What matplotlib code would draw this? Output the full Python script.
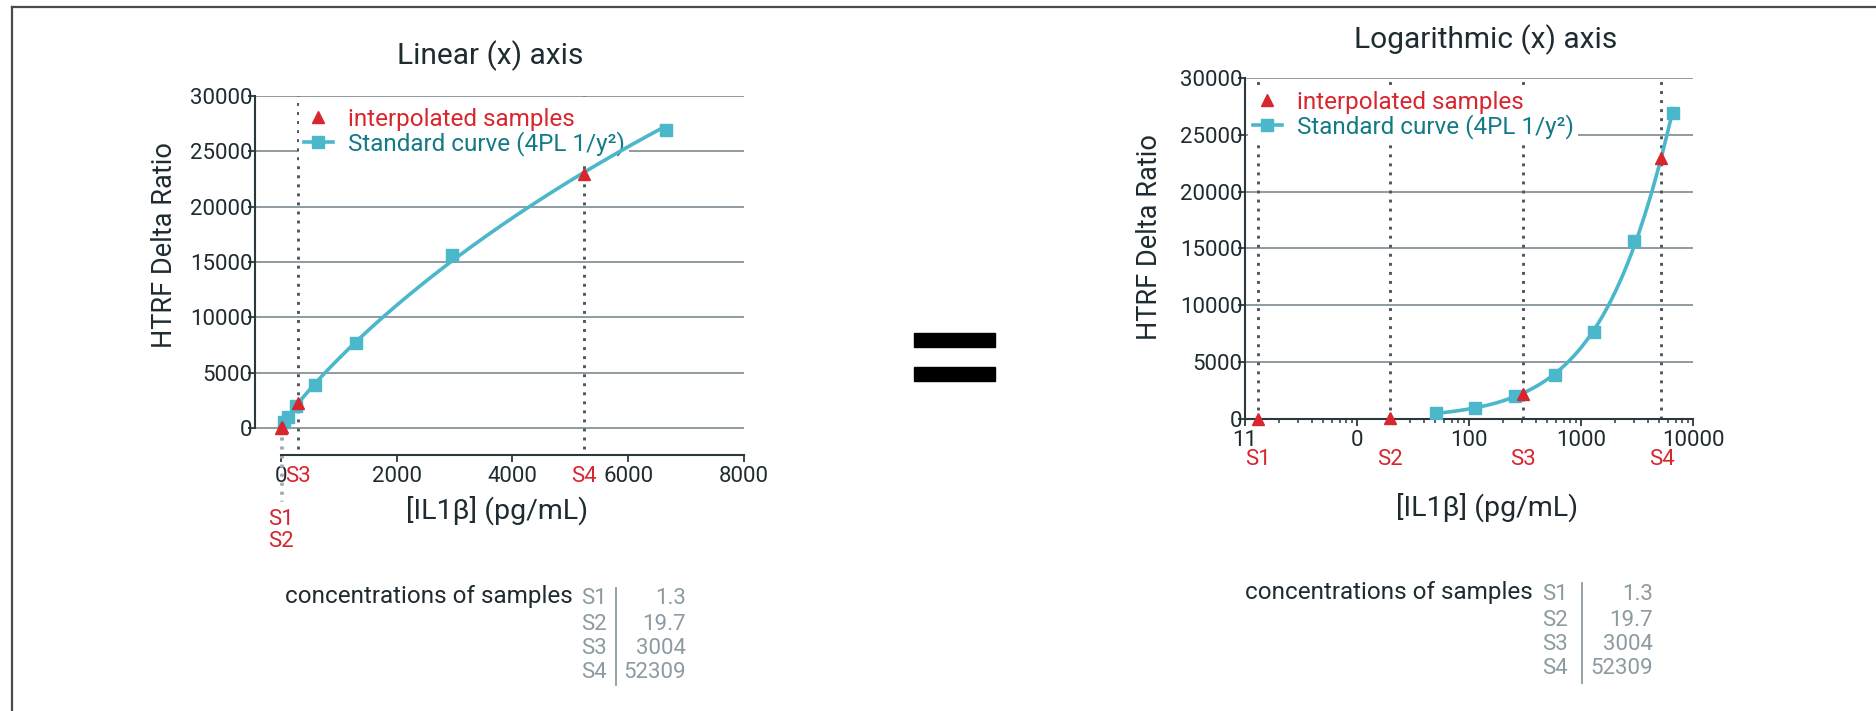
import numpy as np
import matplotlib
matplotlib.use('Agg')
import matplotlib.pyplot as plt
import matplotlib.transforms as mtrans
from matplotlib.lines import Line2D
from matplotlib.patches import Rectangle

plt.rcParams['font.family'] = ['Roboto', 'DejaVu Sans']

# standards of the IL1b kit
std_conc = [51, 114, 258, 580, 1300, 2950, 6650]
std_ratio = [500, 980, 2030, 3870, 7670, 15620, 26950]

# unknowns read back on the curve
sample_names = ['S1', 'S2', 'S3', 'S4']
sample_conc = [1.3, 19.7, 300.4, 5230.9]
sample_ratio = [0, 120, 2230, 22950]
table_values = ['1.3', '19.7', '3004', '52309']

y_ticks = [0, 5000, 10000, 15000, 20000, 25000, 30000]
lin_ticks = [0, 2000, 4000, 6000, 8000]
log_ticks = [1, 10, 100, 1000, 10000]
log_tick_labels = ['11', '0', '100', '1000', '10000']

RED = '#d8262f'
CYAN = '#4bb7cb'
TEAL = '#147a88'
TEXT = '#1e2b31'
GRID = '#87939a'
AXIS = '#2b383e'
DOTS = '#4c575c'
TABLE = '#8c9ba2'
DOTTED = (0, (1, 2.1))

W, H = 1876, 711


def fx(px):
    return px / W


def fy(py):
    return 1 - py / H


def fit_4pl(x, y):
    """Weighted (1/y^2) 4PL fit, grid over slope and EC50, A/D by least squares."""
    x = np.asarray(x, float)
    y = np.asarray(y, float)
    best = None
    for b in np.linspace(0.5, 2.0, 151):
        for c in np.logspace(2.5, 6.5, 201):
            g = 1.0 / (1.0 + (x / c) ** b)
            M = np.column_stack([g, 1 - g]) / y[:, None]
            coef = np.linalg.lstsq(M, np.ones_like(y), rcond=None)[0]
            r = np.sum((M @ coef - 1) ** 2)
            if best is None or r < best[0]:
                best = (r, coef[0], b, c, coef[1])
    return best[1:]


A, B, C, D = fit_4pl(std_conc, std_ratio)


def four_pl(x):
    return D + (A - D) / (1 + (x / C) ** B)


xs = np.logspace(np.log10(min(std_conc)), np.log10(max(std_conc)), 400)

fig = plt.figure(figsize=(W / 100, H / 100), dpi=100)
ax1 = fig.add_axes([fx(255), fy(455), fx(744) - fx(255), fy(96) - fy(455)])
ax2 = fig.add_axes([fx(1245), fy(419), fx(1693) - fx(1245), fy(78) - fy(419)])

for ax in (ax1, ax2):
    ax.spines['top'].set_visible(False)
    ax.spines['right'].set_visible(False)
    for s in ('left', 'bottom'):
        ax.spines[s].set_color(AXIS)
        ax.spines[s].set_linewidth(1.5)
    ax.set_yticks(y_ticks)
    ax.yaxis.grid(True, color=GRID, lw=1.3)
    ax.set_axisbelow(True)
    ax.tick_params(axis='y', length=5, width=1.3, pad=-3, labelsize=16,
                   colors=AXIS, labelcolor=TEXT)
    ax.tick_params(axis='x', which='major', length=5, width=1.3, pad=3,
                   labelsize=16, colors=AXIS, labelcolor=TEXT)

    ax.plot(xs, four_pl(xs), color=CYAN, lw=2.6, zorder=3)
    ax.plot(std_conc, std_ratio, 's', color=CYAN, ms=8, zorder=4)
    ax.plot(sample_conc, sample_ratio, '^', color=RED, ms=8, zorder=5, clip_on=False)

# linear x axis
ax1.set_xlim(-448, 8000)
ax1.set_ylim(-2440, 30000)
ax1.spines['left'].set_bounds(0, 30000)
ax1.spines['bottom'].set_bounds(0, 8000)
ax1.set_xticks(lin_ticks)
lab1 = mtrans.blended_transform_factory(ax1.transData, ax1.transAxes)
for name, c in zip(sample_names, sample_conc):
    if c < 100:
        ax1.plot([c, c], [0, -6600], ls=DOTTED, lw=2.1, color='#a3adb1',
                 clip_on=False, zorder=2)
    else:
        ax1.plot([c, c], [-1900, 30000], ls=DOTTED, lw=2.1, color=DOTS,
                 clip_on=False, zorder=2)
        ax1.text(c, -0.0585, name, transform=lab1, color=RED, fontsize=16,
                 ha='center', va='center')
ax1.text(0, -0.181, 'S1', transform=lab1, color=RED, fontsize=16, ha='center', va='center')
ax1.text(0, -0.242, 'S2', transform=lab1, color=RED, fontsize=16, ha='center', va='center')

# logarithmic x axis
ax2.set_xscale('log')
ax2.set_xlim(1, 10000)
ax2.set_ylim(0, 30000)
ax2.set_xticks(log_ticks)
ax2.set_xticklabels(log_tick_labels)
ax2.tick_params(axis='x', which='minor', length=3, width=1.1, colors=AXIS)
lab2 = mtrans.blended_transform_factory(ax2.transData, ax2.transAxes)
for name, c in zip(sample_names, sample_conc):
    ax2.plot([c, c], [0, 30000], ls=DOTTED, lw=2.1, color=DOTS, zorder=2)
    ax2.text(c, -0.12, name, transform=lab2, color=RED, fontsize=16,
             ha='center', va='center')

# titles and axis labels
fig.text(fx(490), fy(56), 'Linear (x) axis', fontsize=21.5, color=TEXT, ha='center', va='center')
fig.text(fx(1486), fy(40), 'Logarithmic (x) axis', fontsize=21.5, color=TEXT, ha='center', va='center')
fig.text(fx(497), fy(510), '[IL1β] (pg/mL)', fontsize=20.5, color=TEXT, ha='center', va='center')
fig.text(fx(1487), fy(507), '[IL1β] (pg/mL)', fontsize=20.5, color=TEXT, ha='center', va='center')
fig.text(fx(165), fy(245), 'HTRF Delta Ratio', fontsize=19.5, color=TEXT, ha='center',
         va='center', rotation=90)
fig.text(fx(1149), fy(237), 'HTRF Delta Ratio', fontsize=19.5, color=TEXT, ha='center',
         va='center', rotation=90)

# legends, kept under the curve so the last standard stays visible
handles = [Line2D([], [], marker='^', ls='none', color=RED, ms=8),
           Line2D([], [], marker='s', color=CYAN, lw=2.6, ms=8)]
labels = ['interpolated samples', 'Standard curve (4PL 1/y²)']
for ax, corner in ((ax1, (299, 103)), (ax2, (1248, 86))):
    leg = ax.legend(handles, labels, loc='upper left',
                    bbox_to_anchor=(fx(corner[0]), fy(corner[1])),
                    bbox_transform=fig.transFigure, borderaxespad=0, borderpad=0.2,
                    labelspacing=0.0, handlelength=1.2, handletextpad=0.6, fontsize=17.5,
                    frameon=True, fancybox=False, facecolor='white', edgecolor='none',
                    framealpha=1)
    leg.set_zorder(2.5)
    leg.get_texts()[0].set_color(RED)
    leg.get_texts()[1].set_color(TEAL)

# tables of sample concentrations
for x0, name_x, sep_x, val_x, rows, sep_y in (
        (285, 581, 616, 686, [599, 624, 648, 673], (588, 685)),
        (1245, 1542, 1582, 1653, [595, 620, 645, 669], (583, 683))):
    fig.text(fx(x0), fy(rows[0] - 3), 'concentrations of samples', fontsize=17.5,
             color=TEXT, ha='left', va='center')
    for name, val, ry in zip(sample_names, table_values, rows):
        fig.text(fx(name_x), fy(ry), name, fontsize=16, color=TABLE, ha='left', va='center')
        fig.text(fx(val_x), fy(ry), val, fontsize=16, color=TABLE, ha='right', va='center')
    fig.add_artist(Line2D([fx(sep_x)] * 2, [fy(sep_y[0]), fy(sep_y[1])],
                          color=TABLE, lw=1.3))

# equals sign between the panels
for top in (333, 367):
    fig.add_artist(Rectangle((fx(914), fy(top + 14)), fx(995) - fx(914), 14 / H,
                             transform=fig.transFigure, color='black'))

# frame
fig.add_artist(Line2D([fx(12), fx(12)], [0, fy(7)], color='#4a4a4a', lw=1.6))
fig.add_artist(Line2D([fx(12), 1], [fy(7), fy(7)], color='#4a4a4a', lw=1.6))

fig.savefig('out.png', dpi=100, facecolor='white')
